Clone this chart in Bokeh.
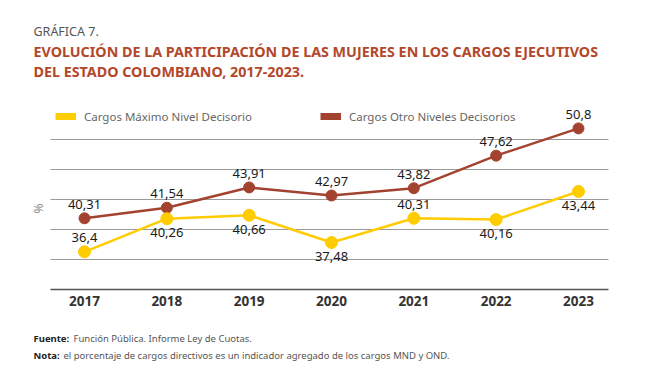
import math
from bokeh.plotting import figure
from bokeh.models import (ColumnDataSource, LabelSet, Label, Range1d, Legend, LegendItem)
from bokeh.core.properties import value
from bokeh.embed import file_html
from bokeh.resources import INLINE

# ---- data ----
years = [2017, 2018, 2019, 2020, 2021, 2022, 2023]
mnd = [36.4, 40.26, 40.66, 37.48, 40.31, 40.16, 43.44]      # Cargos Máximo Nivel Decisorio
ond = [40.31, 41.54, 43.91, 42.97, 43.82, 47.62, 50.8]      # Cargos Otro Niveles Decisorios
mnd_label_side = ["above", "below", "below", "below", "above", "below", "below"]
ond_label_side = ["above"] * 7
series_names = ["Cargos Máximo Nivel Decisorio", "Cargos Otro Niveles Decisorios"]
axis_base = 32
grid_values = [35.5, 39, 42.5, 46, 49.5]

YELLOW = "#FFCC00"
RED = "#A3432F"
TITLE_C = "#B3472A"
FONT = "Noto Sans"

# ---- geometry (page pixels); the frame covers the whole canvas so texts are not clipped ----
W, H = 649, 384
X_FIRST, PX_YEAR = 84, 82.33      # x of first year, px per year
Y_BASE, PX_UNIT = 289, 8.57       # y of axis base, px per percentage point
PLOT_L, PLOT_R = 50, 608          # extent of grid lines

x_range = Range1d(years[0] - X_FIRST / PX_YEAR, years[0] + (W - X_FIRST) / PX_YEAR)
y_range = Range1d(axis_base - (H - Y_BASE) / PX_UNIT, axis_base + Y_BASE / PX_UNIT)


def px_to_x(px):
    return years[0] + (px - X_FIRST) / PX_YEAR


p = figure(width=W, height=H, output_backend="svg", toolbar_location=None,
           x_range=x_range, y_range=y_range, x_axis_location=None, y_axis_location=None,
           min_border=0)
p.outline_line_color = None
p.grid.visible = False
p.background_fill_color = "white"
p.border_fill_color = "white"

# grid lines and axis base line
xl, xr = px_to_x(PLOT_L), px_to_x(PLOT_R)
p.segment(x0=[xl] * len(grid_values), x1=[xr] * len(grid_values), y0=grid_values,
          y1=grid_values, line_color="#9a9a9a", line_width=1)
p.segment(x0=[xl], x1=[xr], y0=[axis_base], y1=[axis_base], line_color="#555555",
          line_width=1.5)

# year labels
ysrc = ColumnDataSource(dict(x=years, y=[axis_base] * len(years), t=[str(y) for y in years]))
p.add_layout(LabelSet(x="x", y="y", text="t", source=ysrc, y_offset=-11,
                      text_align="center", text_baseline="middle", text_font=value(FONT),
                      text_font_style="bold", text_font_size="13.5px", text_color="#333333"))


def fmt(v):
    return str(v).replace(".", ",")


def add_series(vals, sides, color, size):
    offs = [14 if s == "above" else -14 for s in sides]
    src = ColumnDataSource(dict(x=years, y=vals, t=[fmt(v) for v in vals], off=offs))
    p.line("x", "y", source=src, line_color=color, line_width=2.5)
    p.scatter("x", "y", source=src, size=size, fill_color=color, line_color=color)
    p.add_layout(LabelSet(x="x", y="y", text="t", source=src, y_offset="off",
                          text_align="center", text_baseline="middle",
                          text_font=value(FONT), text_font_size="13px",
                          text_color="#1a1a1a"))
    # hidden thick copy, used only as the legend swatch
    return p.line("x", "y", source=src, line_color=color, line_width=7, visible=False)


sw_ond = add_series(ond, ond_label_side, RED, 11)
sw_mnd = add_series(mnd, mnd_label_side, YELLOW, 12)


def lab(text, x, y, size, color, style="normal", angle=0, align="left"):
    p.add_layout(Label(x=x, y=H - y, x_units="screen", y_units="screen", text=text,
                       text_font=FONT, text_font_size=size, text_color=color,
                       text_font_style=style, text_baseline="middle", text_align=align,
                       angle=angle))


lab("GRÁFICA 7.", 33, 31, "12.5px", "#555555")
lab("EVOLUCIÓN DE LA PARTICIPACIÓN DE LAS MUJERES EN LOS CARGOS EJECUTIVOS", 33, 51,
    "14.3px", TITLE_C, "bold")
lab("DEL ESTADO COLOMBIANO, 2017-2023.", 33, 71, "14.3px", TITLE_C, "bold")

# legend: one legend per entry
for (x0, name, r) in [(55, series_names[0], sw_mnd), (320, series_names[1], sw_ond)]:
    leg = Legend(items=[LegendItem(label=name, renderers=[r])],
                 location=(x0, H - 116 - 10), orientation="horizontal",
                 glyph_width=21, glyph_height=20, label_standoff=8, padding=0, margin=0,
                 border_line_color=None, background_fill_alpha=0,
                 inactive_fill_alpha=0,
                 label_text_font=FONT, label_text_font_size="11.5px",
                 label_text_color="#666666", label_height=20)
    p.add_layout(leg, "center")

lab("%", 38, 208, "12px", "#888888", angle=math.pi / 2, align="center")

lab("Fuente:", 33, 338, "9.5px", "#222222", "bold")
lab("Función Pública. Informe Ley de Cuotas.", 73, 338, "9.5px", "#555555")
lab("Nota:", 33, 355, "9.5px", "#222222", "bold")
lab("el porcentaje de cargos directivos es un indicador agregado de los cargos MND y OND.",
    63, 355, "9.5px", "#555555")

open("out.html", "w").write(file_html(p, INLINE))
